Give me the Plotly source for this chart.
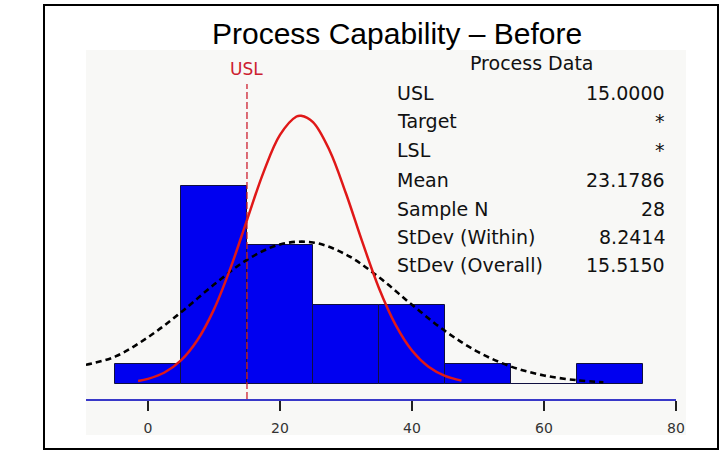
import plotly.graph_objects as go

# ---------------- data ----------------
bin_centers = [0, 10, 20, 30, 40, 50, 60, 70]
bin_counts = [1, 10, 7, 4, 4, 1, 0, 1]

# within (red) fitted curve
within_x = [-1.5, 0, 2.5, 5, 7.5, 10, 12.5, 15, 17.5, 20, 22.5, 23.2, 25, 27.5,
            30, 32.5, 35, 37.5, 40, 42.5, 45, 47.5]
within_y = [0.15, 0.26, 0.58, 1.19, 2.22, 3.77, 5.85, 8.28, 10.69, 12.58, 13.51,
            13.55, 13.23, 11.81, 9.62, 7.15, 4.84, 3.00, 1.69, 0.87, 0.41, 0.17]

# overall (black dashed) fitted curve
overall_x = [-9.4, -5, 0, 5, 10, 15, 20, 25, 30, 35, 40, 45, 50, 55, 60, 65, 69]
overall_y = [0.97, 1.38, 2.36, 3.62, 5.02, 6.27, 7.05, 7.15, 6.54, 5.39, 4.00,
             2.68, 1.62, 0.88, 0.43, 0.19, 0.09]

usl_value = 15
tick_values = [0, 20, 40, 60, 80]

stat_labels = ["USL", "Target", "LSL", "Mean", "Sample N", "StDev (Within)", "StDev (Overall)"]
stat_values = ["15.0000", "*", "*", "23.1786", "28", "8.2414", "15.5150"]

title_text = "Process Capability \u2013 Before"

# ---------------- geometry helpers (pixels -> paper) ----------------
W, H = 725, 451
L, R, T, B = 86, 49, 50, 52
PW = W - L - R
PH = H - T - B


def px(x):
    return (x - L) / PW


def py(y):
    return (H - B - y) / PH


MT = "DejaVu Sans, Verdana, sans-serif"

fig = go.Figure()

fig.add_trace(go.Bar(
    x=bin_centers, y=bin_counts, width=10,
    marker=dict(color="#0000F0", line=dict(color="#101040", width=1)),
    showlegend=False, hoverinfo="skip",
))

fig.add_trace(go.Scatter(
    x=overall_x, y=overall_y, mode="lines", line_shape="spline",
    line=dict(color="black", width=2.6, dash="6px,4px"),
    showlegend=False, hoverinfo="skip",
))

fig.add_trace(go.Scatter(
    x=within_x, y=within_y, mode="lines", line_shape="spline",
    line=dict(color="#E01818", width=2.5),
    showlegend=False, hoverinfo="skip",
))

shapes = [
    # light panel background
    dict(type="rect", xref="paper", yref="paper", x0=px(86), x1=px(686), y0=py(435), y1=py(50),
         fillcolor="#F8F8F6", line=dict(width=0), layer="below"),
    # outer frame
    dict(type="rect", xref="paper", yref="paper", x0=px(44), x1=px(718), y0=py(449), y1=py(5),
         fillcolor="rgba(0,0,0,0)", line=dict(color="black", width=2), layer="above"),
    # USL line
    dict(type="line", xref="x", yref="paper", x0=usl_value, x1=usl_value, y0=0, y1=py(84),
         line=dict(color="#CC2030", width=1.3, dash="7px,3px"), layer="above"),
]

annotations = [
    dict(text=title_text, xref="paper", yref="paper", x=px(397), y=py(33),
         xanchor="center", yanchor="middle", showarrow=False,
         font=dict(family="Liberation Sans, Arial", size=30, color="black")),
    dict(text="USL", xref="x", yref="paper", x=usl_value, y=py(69),
         xanchor="center", yanchor="middle", showarrow=False,
         font=dict(family=MT, size=17, color="#CC2030")),
    dict(text="Process Data", xref="paper", yref="paper", x=px(531), y=py(63),
         xanchor="center", yanchor="middle", showarrow=False,
         font=dict(family=MT, size=19, color="#111111")),
]

row_y = [93, 121, 150, 180, 209, 237, 265]
for lab, val, yy in zip(stat_labels, stat_values, row_y):
    annotations.append(dict(text=lab, xref="paper", yref="paper", x=px(395), y=py(yy),
                            xanchor="left", yanchor="middle", showarrow=False,
                            font=dict(family=MT, size=19, color="#111111")))
    annotations.append(dict(text=val, xref="paper", yref="paper", x=px(667), y=py(yy),
                            xanchor="right", yanchor="middle", showarrow=False,
                            font=dict(family=MT, size=19, color="#111111")))

fig.update_layout(
    width=W, height=H,
    margin=dict(l=L, r=R, t=T, b=B, pad=0),
    paper_bgcolor="white",
    plot_bgcolor="rgba(0,0,0,0)",
    shapes=shapes,
    annotations=annotations,
    bargap=0,
    xaxis=dict(range=[-9.39, 80], showgrid=False, zeroline=False,
               showline=True, linecolor="#3838C8", linewidth=1.5,
               ticks="outside", ticklen=10, tickwidth=1.5, tickcolor="#202020",
               tickvals=tick_values, ticklabelstandoff=5,
               tickfont=dict(family=MT, size=14, color="#333333")),
    yaxis=dict(range=[-0.758, 16.87], visible=False, showgrid=False, zeroline=False),
)

fig.write_html("out.html", config={"displayModeBar": False},
               post_script="document.body.style.margin='0';document.body.style.overflow='hidden';")
